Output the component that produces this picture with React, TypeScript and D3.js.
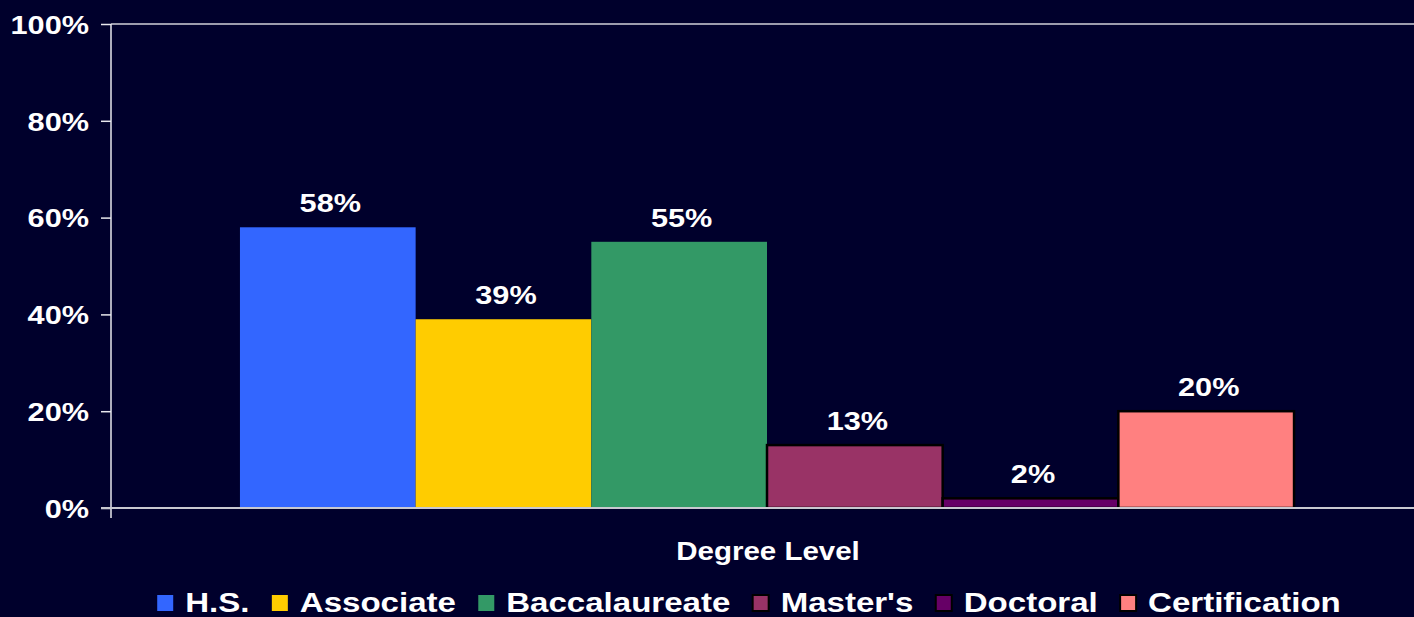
import React, { useEffect, useRef } from "react";
import * as d3 from "d3";

const categories = ["H.S.", "Associate", "Baccalaureate", "Master's", "Doctoral", "Certification"];
const values = [58, 39, 55, 13, 2, 20];
const colors = ["#3366FF", "#FFCC00", "#339966", "#993366", "#660066", "#FF8080"];
const outlined = [false, false, false, true, true, true];
const yTicks = [0, 20, 40, 60, 80, 100];
const xTitle = "Degree Level";

const W = 1414;
const H = 617;
const BG = "#00002c";
const FONT = "'Liberation Sans', Arial, sans-serif";
const SX = 1.18;

export default function App() {
  const ref = useRef<SVGSVGElement>(null);

  useEffect(() => {
    const svg = d3.select(ref.current);
    svg.selectAll("*").remove();

    const left = 111, right = 1423, top = 24, bottom = 508;

    svg.append("rect").attr("width", W).attr("height", H).attr("fill", BG);

    const x = d3.scaleBand<string>().domain(categories).range([left, right]).paddingInner(0).paddingOuter(0.734);
    const y = d3.scaleLinear().domain([0, 100]).range([bottom, top]);

    svg.append("line").attr("x1", left).attr("x2", W).attr("y1", y(100)).attr("y2", y(100))
      .attr("stroke", "#d0d0d8").attr("stroke-width", 1.5);

    svg.append("g").selectAll("rect").data(categories).join("rect")
      .attr("x", (d) => x(d)!)
      .attr("width", x.bandwidth())
      .attr("y", (_, i) => y(values[i]))
      .attr("height", (_, i) => y(0) - y(values[i]))
      .attr("fill", (_, i) => colors[i])
      .attr("stroke", (_, i) => (outlined[i] ? "#000" : "none"))
      .attr("stroke-width", 2.5);

    svg.append("g").selectAll("text").data(categories).join("text")
      .attr("transform", (d, i) => `translate(${x(d)! + x.bandwidth() / 2 + 2.5},${y(values[i]) - 15}) scale(${SX},1)`)
      .attr("text-anchor", "middle")
      .attr("fill", "#fff")
      .attr("font-family", FONT)
      .attr("font-weight", "bold")
      .attr("font-size", 26)
      .text((_, i) => `${values[i]}%`);

    const yAxis = d3.axisLeft(y).tickValues(yTicks).tickSize(10).tickPadding(12).tickFormat((d) => `${d}%`);
    const gy = svg.append("g").attr("transform", `translate(${left},0)`).call(yAxis);
    gy.select(".domain").attr("stroke", "#e8e8ee").attr("stroke-width", 1.5).attr("d", `M0,${top}V${bottom + 10}`);
    gy.selectAll(".tick line").attr("stroke", "#e8e8ee").attr("stroke-width", 1.5);
    gy.selectAll(".tick text").attr("fill", "#fff").attr("font-family", FONT).attr("font-weight", "bold")
      .attr("font-size", 26).attr("dy", "0.36em").attr("x", 0)
      .attr("transform", `translate(-22,0) scale(${SX},1)`);

    svg.append("line").attr("x1", left - 10).attr("x2", W).attr("y1", y(0)).attr("y2", y(0))
      .attr("stroke", "#c8c8d0").attr("stroke-width", 2);

    svg.append("text").attr("transform", `translate(${(left + right) / 2 + 1},560) scale(${SX},1)`)
      .attr("text-anchor", "middle")
      .attr("fill", "#fff").attr("font-family", FONT).attr("font-weight", "bold").attr("font-size", 25)
      .text(xTitle);

    const lg = svg.append("g");
    const items = lg.selectAll("g").data(categories).join("g");
    items.append("rect").attr("width", 16).attr("height", 16).attr("y", 595)
      .attr("fill", (_, i) => colors[i])
      .attr("stroke", (_, i) => (outlined[i] ? "#000" : "none")).attr("stroke-width", 2);
    const texts = items.append("text").attr("transform", `translate(28,612) scale(${SX},1)`).attr("fill", "#fff")
      .attr("font-family", FONT).attr("font-weight", "bold").attr("font-size", 28)
      .text((d) => d);
    const widths: number[] = [];
    texts.each(function () { widths.push((this as SVGTextElement).getComputedTextLength() * SX); });
    const gap = 22.4;
    const total = widths.reduce((a, w) => a + 28 + w, 0) + gap * (widths.length - 1);
    let cx = 749 - total / 2;
    items.attr("transform", (_, i) => {
      const t = `translate(${cx},0)`;
      cx += 28 + widths[i] + gap;
      return t;
    });
  }, []);

  return (
    <svg ref={ref} width={W} height={H} style={{ position: "absolute", left: 0, top: 0, display: "block" }} />
  );
}
